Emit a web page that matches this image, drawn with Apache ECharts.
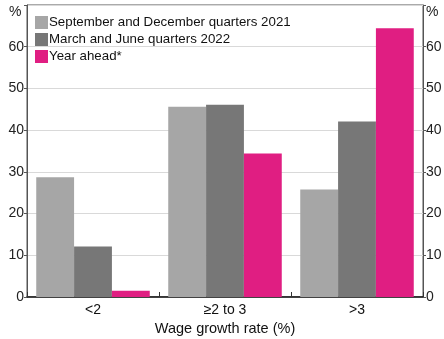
<!DOCTYPE html>
<html>
<head>
<meta charset="utf-8">
<script src="https://cdn.jsdelivr.net/npm/echarts@6/dist/echarts.min.js"></script>
<style>
  html, body { margin: 0; padding: 0; background: #fff; }
  #chart { width: 444px; height: 339px; }
</style>
</head>
<body>
<div id="chart"></div>
<script>
(function () {
  "use strict";

  // Data
  const categories = ['<2', '\u22652 to 3', '>3'];
  const sepDec2021 = [28.7, 45.6, 25.8];
  const marJun2022 = [12.1, 46.1, 42.1];
  const yearAhead = [1.5, 34.4, 64.4];
  const seriesNames = ['September and December quarters 2021', 'March and June quarters 2022', 'Year ahead*'];
  const colors = ['#a6a6a6', '#777777', '#e01e82'];

  const font = 'Liberation Sans, Arial, sans-serif';
  const tickLabel = v => (v === 70 ? '' : String(v));

  const yAxisBase = {
    type: 'value',
    min: 0,
    max: 70,
    interval: 10,
    axisLine: { show: true, lineStyle: { color: '#555', width: 1 } },
    axisTick: { show: true, length: 3, lineStyle: { color: '#555' } },
    axisLabel: { color: '#222', fontSize: 14, fontFamily: font, margin: 3, formatter: tickLabel },
    splitLine: { show: true, lineStyle: { color: '#d9d9d9', width: 1 } }
  };

  const chart = echarts.init(document.getElementById('chart'), null, { renderer: 'canvas' });
  chart.setOption({
    animation: false,
    color: colors,
    textStyle: { fontFamily: font },
    grid: { left: 27, right: 21, top: 5, bottom: 42, containLabel: false, outerBoundsMode: 'none',
            show: true, borderColor: '#555', borderWidth: 1 },
    legend: {
      orient: 'vertical',
      left: 30,
      top: 11,
      itemWidth: 13,
      itemHeight: 13,
      itemGap: 4,
      icon: 'rect',
      textStyle: { fontSize: 13.3, color: '#111', fontFamily: font, padding: [0, 0, 0, -4] },
      data: seriesNames
    },
    xAxis: {
      type: 'category',
      data: categories,
      name: 'Wage growth rate (%)',
      nameLocation: 'middle',
      nameGap: 24,
      nameTextStyle: { fontSize: 14.5, color: '#111', fontFamily: font },
      axisLine: { lineStyle: { color: '#111', width: 1.5 } },
      axisTick: { show: true, inside: true, length: 5, lineStyle: { color: '#333' } },
      axisLabel: { color: '#111', fontSize: 14, fontFamily: font, margin: 6 },
      splitLine: { show: false }
    },
    yAxis: [
      Object.assign({}, yAxisBase, { position: 'left' }),
      Object.assign({}, yAxisBase, { position: 'right', splitLine: { show: false } })
    ],
    series: [
      { name: seriesNames[0], type: 'bar', data: sepDec2021, barGap: '0%', barCategoryGap: '14%' },
      { name: seriesNames[1], type: 'bar', data: marJun2022, barGap: '0%', barCategoryGap: '14%' },
      { name: seriesNames[2], type: 'bar', data: yearAhead, barGap: '0%', barCategoryGap: '14%' }
    ],
    graphic: [
      { type: 'text', left: 9, top: 5, style: { text: '%', font: '14px ' + font, fill: '#222' } },
      { type: 'text', left: 426, top: 5, style: { text: '%', font: '14px ' + font, fill: '#222' } }
    ]
  });
})();
</script>
</body>
</html>
